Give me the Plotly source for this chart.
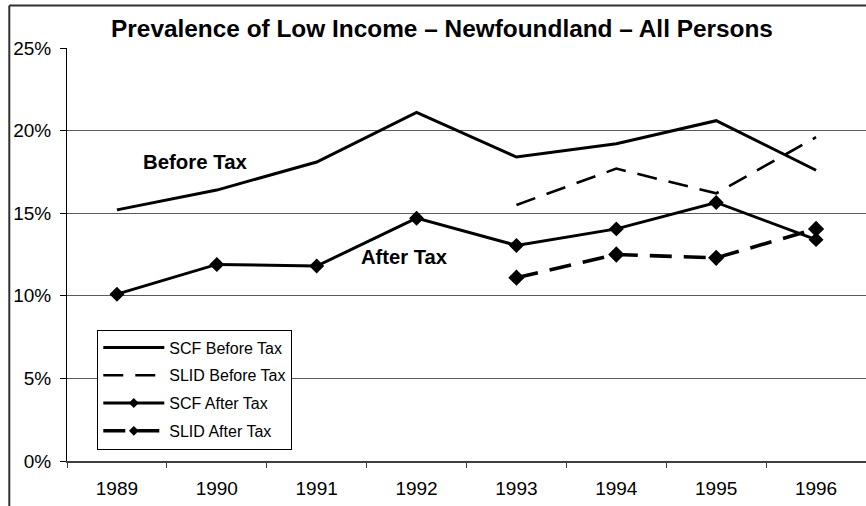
import plotly.graph_objects as go

# ---- data ----
years = ["1989", "1990", "1991", "1992", "1993", "1994", "1995", "1996"]
slid_years = ["1993", "1994", "1995", "1996"]
scf_before = [15.2, 16.4, 18.1, 21.1, 18.4, 19.2, 20.6, 17.6]
slid_before = [15.5, 17.7, 16.2, 19.6]
scf_after = [10.1, 11.9, 11.8, 14.7, 13.05, 14.05, 15.65, 13.4]
slid_after = [11.1, 12.5, 12.3, 14.05]
y_tick_vals = [0, 5, 10, 15, 20, 25]
y_tick_text = ["0%", "5%", "10%", "15%", "20%", "25%"]

FONT = "Liberation Sans, Arial, sans-serif"

styles = {
    "SCF Before Tax": dict(line=dict(color="black", width=3), mode="lines", msize=0),
    "SLID Before Tax": dict(line=dict(color="black", width=2.6, dash="20px,12px"), mode="lines", msize=0),
    "SCF After Tax": dict(line=dict(color="black", width=3), mode="lines+markers", msize=11.5),
    "SLID After Tax": dict(line=dict(color="black", width=3.6, dash="22px,12px"), mode="lines+markers", msize=12.5),
}
series = [
    ("SCF Before Tax", years, scf_before),
    ("SLID Before Tax", slid_years, slid_before),
    ("SCF After Tax", years, scf_after),
    ("SLID After Tax", slid_years, slid_after),
]

fig = go.Figure()
for i, (name, xs, ys) in enumerate(series):
    st = styles[name]
    fig.add_trace(go.Scatter(
        x=xs, y=ys, name=name, mode=st["mode"], line=st["line"],
        marker=dict(symbol="diamond", size=st["msize"] or 6, color="black"),
        showlegend=False))
# legend-only entries (smaller diamonds, as in the original legend)
for i, (name, xs, ys) in enumerate(series):
    st = styles[name]
    fig.add_trace(go.Scatter(
        x=[None], y=[None], name=name, mode=st["mode"], line=st["line"],
        marker=dict(symbol="diamond", size=7.5, color="black"),
        legendgroup="g%d" % i, showlegend=True))

fig.update_layout(
    width=866, height=506,
    margin=dict(l=67, r=0, t=48, b=45, autoexpand=False),
    paper_bgcolor="white", plot_bgcolor="white",
    font=dict(family=FONT, color="black", size=18.7),
    title=dict(text="<b>Prevalence of Low Income – Newfoundland – All Persons</b>",
               x=442 / 866, xref="container", xanchor="center",
               y=1 - 28.7 / 506, yref="container", yanchor="middle",
               font=dict(family=FONT, size=24.4, color="black")),
    showlegend=True,
    legend=dict(x=(97.3 - 67) / 799, y=(461 - 329.5) / 413, xanchor="left", yanchor="top",
                bgcolor="white", bordercolor="black", borderwidth=1,
                font=dict(family=FONT, size=16, color="black"),
                itemwidth=61, tracegroupgap=4, traceorder="grouped",
                itemclick=False, itemdoubleclick=False),
    xaxis=dict(type="category", categoryorder="array", categoryarray=years,
               range=[-0.5, 7.5], showgrid=False, zeroline=False, automargin=False,
               showline=True, linecolor="#404040", linewidth=2,
               ticks="outside", tickson="boundaries", ticklen=5, tickcolor="#404040",
               tickfont=dict(family=FONT, size=19, color="black"),
               ticklabelstandoff=9, fixedrange=True),
    yaxis=dict(range=[0, 25], tickvals=y_tick_vals, ticktext=y_tick_text,
               showgrid=True, gridcolor="#5a5a5a", gridwidth=1, zeroline=False,
               automargin=False,
               showline=True, linecolor="black", linewidth=1,
               ticks="outside", ticklen=6, tickcolor="black",
               tickfont=dict(family=FONT, size=19, color="black"),
               ticklabelstandoff=5, fixedrange=True),
    annotations=[
        dict(text="<b>Before Tax</b>", xref="paper", yref="paper",
             x=(195.5 - 67) / 799, y=(461 - 161.7) / 413, xanchor="center", yanchor="middle",
             showarrow=False, font=dict(family=FONT, size=20.4, color="black")),
        dict(text="<b>After Tax</b>", xref="paper", yref="paper",
             x=(404.5 - 67) / 799, y=(461 - 256.7) / 413, xanchor="center", yanchor="middle",
             showarrow=False, font=dict(family=FONT, size=20.2, color="black")),
    ],
    shapes=[
        # chart-area border (top and left edges visible in the cropped original)
        dict(type="line", xref="paper", yref="paper",
             x0=(9.3 - 67) / 799, x1=1.3, y0=(461 - 5.5) / 413, y1=(461 - 5.5) / 413,
             line=dict(color="#303030", width=2), layer="below"),
        dict(type="line", xref="paper", yref="paper",
             x0=(9.3 - 67) / 799, x1=(9.3 - 67) / 799, y0=-0.3, y1=(461 - 5.5) / 413,
             line=dict(color="#303030", width=2), layer="below"),
    ],
)

fig.write_html("out.html", config={"displayModeBar": False},
               post_script=("document.documentElement.style.overflow='hidden';"
                            "document.body.style.margin='0';document.body.style.overflow='hidden';"))
